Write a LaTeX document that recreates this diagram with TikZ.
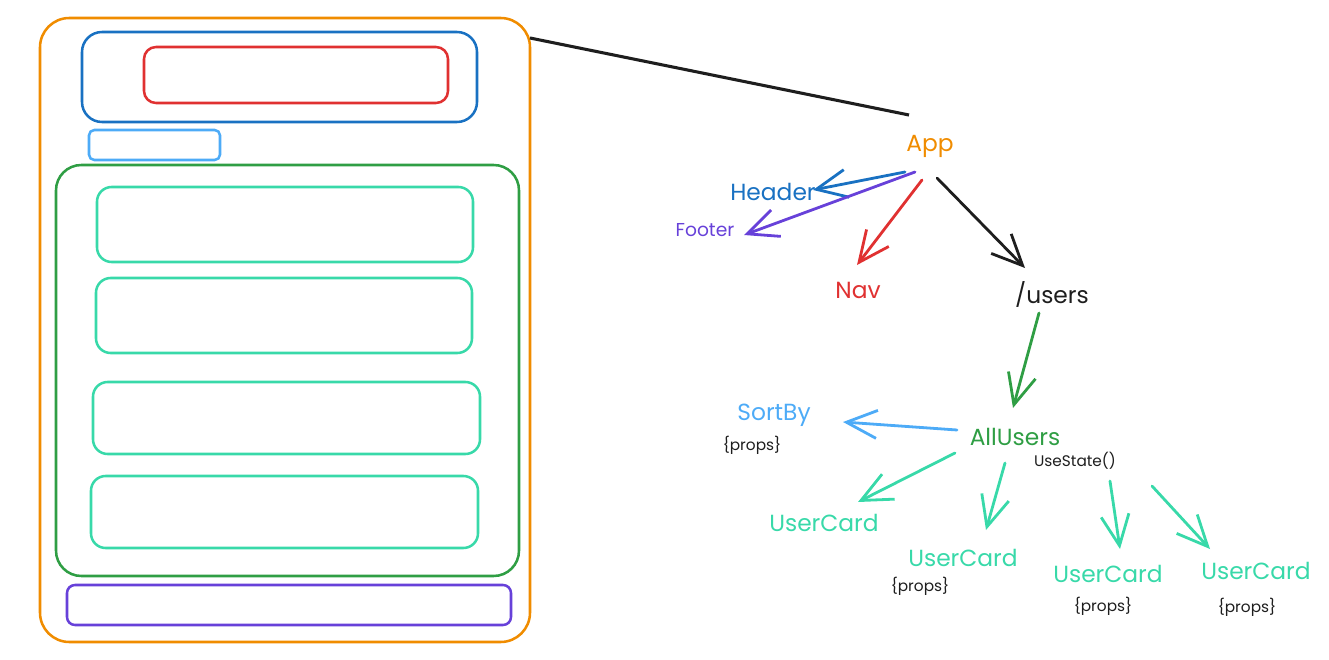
\documentclass[tikz,border=0pt]{standalone}
\usepackage{fontspec}
\setmainfont{Poppins}
\usetikzlibrary{arrows.meta,fit}
\definecolor{cOrange}{HTML}{F08C00}
\definecolor{cBlue}{HTML}{1971C2}
\definecolor{cRed}{HTML}{E03131}
\definecolor{cLight}{HTML}{4DABF7}
\definecolor{cGreen}{HTML}{2F9E44}
\definecolor{cTeal}{HTML}{38D9A9}
\definecolor{cViolet}{HTML}{6741D9}
\definecolor{cBlack}{HTML}{1E1E1E}
\tikzset{
  wbox/.style={fit={#1}, inner sep=0pt, draw, line width=1.9pt},
  lbl/.style={font=\fontsize{17.5}{20}\selectfont, inner sep=0pt, anchor=center},
  small/.style={font=\fontsize{11.5}{13}\selectfont, inner sep=0pt, text=cBlack, anchor=center},
  conn/.style={line width=2.1pt, line cap=round, -{Straight Barb[length=23pt,width=21pt,line width=2.1pt]}},
}
\begin{document}
\begin{tikzpicture}[x=0.75pt,y=-0.75pt]
\useasboundingbox (0,0) rectangle (1329,660);
% wireframe boxes
\node[wbox={(40,18) (530,642)}, draw=cOrange, rounded corners=22pt] (ui) {};
\node[wbox={(82,32) (477,122)}, draw=cBlue, rounded corners=15pt] (hdr) {};
\node[wbox={(144,47) (448,103)}, draw=cRed, rounded corners=9pt] (nav) {};
\node[wbox={(89,130) (220,160)}, draw=cLight, rounded corners=4pt] (sort) {};
\node[wbox={(56,165) (519,576)}, draw=cGreen, rounded corners=19pt] (list) {};
\node[wbox={(97,187) (473,262)}, draw=cTeal, rounded corners=11pt] (card1) {};
\node[wbox={(96,278) (472,353)}, draw=cTeal, rounded corners=11pt] (card2) {};
\node[wbox={(93,382) (480,454)}, draw=cTeal, rounded corners=11pt] (card3) {};
\node[wbox={(91,476) (478,548)}, draw=cTeal, rounded corners=11pt] (card4) {};
\node[wbox={(67,585) (511,625)}, draw=cViolet, rounded corners=6pt] (ftr) {};
% labels
\node[lbl, text=cOrange] (app) at (930,146) {App};
\node[lbl, text=cBlue] (header) at (773,192) {Header};
\node[lbl, text=cViolet, font=\fontsize{14}{16}\selectfont] (footer) at (705,230) {Footer};
\node[lbl, text=cRed] (navl) at (858,290) {Nav};
\node[lbl, text=cBlack] (users) at (1052,294) {/users};
\node[lbl, text=cLight] (sortby) at (774,415) {SortBy};
\node[small] (p0) at (752,445) {\{props\}};
\node[lbl, text=cGreen] (allusers) at (1015,437) {AllUsers};
\node[small] (state) at (1075,461) {UseState()};
\node[lbl, text=cTeal] (uc1) at (824,523) {UserCard};
\node[lbl, text=cTeal] (uc2) at (963,558) {UserCard};
\node[small] (p2) at (920,586) {\{props\}};
\node[lbl, text=cTeal] (uc3) at (1108,574) {UserCard};
\node[small] (p3) at (1103,606) {\{props\}};
\node[lbl, text=cTeal] (uc4) at (1256,571) {UserCard};
\node[small] (p4) at (1247,607) {\{props\}};
% connector endpoints
\coordinate (uiA) at (530,38);
\coordinate (appA) at (909,115);
\coordinate (hS) at (905,172); \coordinate (hE) at (813,190);
\coordinate (fS) at (915,172); \coordinate (fE) at (744,235);
\coordinate (nS) at (922,180); \coordinate (nE) at (857,265);
\coordinate (uS) at (937,178); \coordinate (uE) at (1025,268);
\coordinate (aS) at (1039,313); \coordinate (aE) at (1013,408);
\coordinate (sS) at (957,430); \coordinate (sE) at (843,422);
\coordinate (c1S) at (955,453); \coordinate (c1E) at (858,502);
\coordinate (c2S) at (1005,463); \coordinate (c2E) at (986,530);
\coordinate (c3S) at (1110,481); \coordinate (c3E) at (1120,549);
\coordinate (c4S) at (1152,486); \coordinate (c4E) at (1210,549);
% connectors
\draw[cBlack, line width=2.3pt] (uiA) -- (appA);
\draw[conn, cBlue] (hS) -- (hE);
\draw[conn, cViolet] (fS) -- (fE);
\draw[conn, cRed] (nS) -- (nE);
\draw[conn, cBlack] (uS) -- (uE);
\draw[conn, cGreen] (aS) -- (aE);
\draw[conn, cLight] (sS) -- (sE);
\draw[conn, cTeal] (c1S) -- (c1E);
\draw[conn, cTeal] (c2S) -- (c2E);
\draw[conn, cTeal] (c3S) -- (c3E);
\draw[conn, cTeal] (c4S) -- (c4E);
\end{tikzpicture}
\end{document}
